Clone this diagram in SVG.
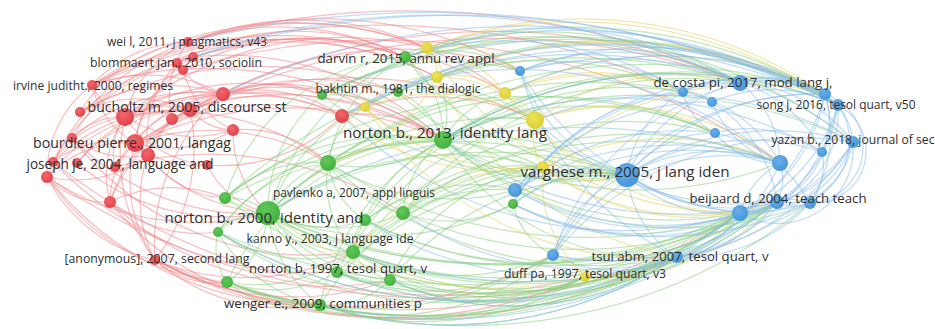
<svg xmlns="http://www.w3.org/2000/svg" width="935" height="329" viewBox="0 0 935 329">
<style>
#edges path{fill:none;stroke-width:1.25;stroke-opacity:.5}
.er{stroke:#ef8285}
.eg{stroke:#86cf7c}
.ey{stroke:#e2d45e}
.eb{stroke:#86bce9}
.r{fill:url(#gr)}
.g{fill:url(#gg)}
.y{fill:url(#gy)}
.b{fill:url(#gb)}
text{font-family:"Open Sans","Liberation Sans",sans-serif;fill:#2f2f2f;text-anchor:middle}
</style>
<defs>
<radialGradient id="gr" cx="40%" cy="35%" r="65%"><stop offset="0" stop-color="#f0686c"/><stop offset="1" stop-color="#e3424a"/></radialGradient>
<radialGradient id="gg" cx="40%" cy="35%" r="65%"><stop offset="0" stop-color="#62c65a"/><stop offset="1" stop-color="#43b33e"/></radialGradient>
<radialGradient id="gy" cx="40%" cy="35%" r="65%"><stop offset="0" stop-color="#ece15a"/><stop offset="1" stop-color="#ddd032"/></radialGradient>
<radialGradient id="gb" cx="40%" cy="35%" r="65%"><stop offset="0" stop-color="#68afe6"/><stop offset="1" stop-color="#4696da"/></radialGradient>
</defs>
<rect width="935" height="329" fill="#fff"/>
<g id="edges">
<g class="er">
<path d="M92 85A130 130 0 0 1 188 42"/><path d="M92 85A160 160 0 0 1 223 94"/><path d="M92 85A60 60 0 0 0 125 117"/><path d="M92 85A90 90 0 0 0 135 143"/>
<path d="M80 112A150 150 0 0 1 188 42"/><path d="M80 112A170 170 0 0 1 223 94"/><path d="M80 112A130 130 0 0 1 190 110"/><path d="M72 138A190 190 0 0 1 223 94"/>
<path d="M72 138A70 70 0 0 1 125 117"/><path d="M72 138A95 95 0 0 0 148 155"/><path d="M53 162A100 100 0 0 1 125 117"/><path d="M53 162A100 100 0 0 1 135 143"/>
<path d="M53 162A180 180 0 0 1 190 110"/><path d="M77 163A150 150 0 0 1 190 110"/><path d="M77 163A190 190 0 0 1 223 94"/><path d="M47 177A110 110 0 0 1 135 143"/>
<path d="M47 177A120 120 0 0 0 148 155"/><path d="M47 177A180 180 0 0 1 190 110"/><path d="M47 177A80 80 0 0 0 110 202"/><path d="M47 177A160 160 0 0 0 155 260"/>
<path d="M115 167A150 150 0 0 1 223 94"/><path d="M115 167A60 60 0 0 1 125 117"/><path d="M110 202A80 80 0 0 1 135 143"/><path d="M110 202A100 100 0 0 1 125 117"/>
<path d="M110 202A150 150 0 0 1 190 110"/><path d="M110 202A190 190 0 0 1 223 94"/><path d="M125 117A110 110 0 0 1 188 42"/><path d="M125 117A80 80 0 0 1 190 110"/>
<path d="M125 117A120 120 0 0 1 223 94"/><path d="M125 117A130 130 0 0 0 233 130"/><path d="M125 117A110 110 0 0 0 207 165"/><path d="M135 143A120 120 0 0 1 193 57"/>
<path d="M135 143A100 100 0 0 1 183 70"/><path d="M135 143A120 120 0 0 1 223 94"/><path d="M135 143A120 120 0 0 0 233 130"/><path d="M135 143A90 90 0 0 0 207 165"/>
<path d="M148 155A110 110 0 0 1 177 63"/><path d="M148 155A110 110 0 0 1 223 94"/><path d="M148 155A70 70 0 0 1 190 110"/><path d="M172 119A90 90 0 0 1 188 42"/>
<path d="M172 119A70 70 0 0 0 223 94"/><path d="M190 110A60 60 0 0 0 233 130"/><path d="M177 63A70 70 0 0 0 223 94"/><path d="M183 70A90 90 0 0 0 233 130"/>
<path d="M135 143A140 140 0 0 0 155 260"/><path d="M125 117A170 170 0 0 0 155 260"/><path d="M148 155A130 130 0 0 0 155 260"/><path d="M155 260A180 180 0 0 0 190 110"/>
<path d="M155 260A200 200 0 0 1 223 94"/><path d="M125 117A260 260 0 0 1 342 116"/><path d="M135 143A250 250 0 0 1 342 116"/><path d="M223 94A150 150 0 0 1 342 116"/>
<path d="M190 110A180 180 0 0 1 342 116"/><path d="M207 165A170 170 0 0 0 342 116"/><path d="M188 42A280 280 0 0 1 405 57"/><path d="M188 42A300 300 0 0 1 427 48"/>
<path d="M193 57A320 320 0 0 1 443 140"/><path d="M177 63A320 320 0 0 1 437 77"/><path d="M92 85A380 380 0 0 1 405 57"/><path d="M92 85A420 420 0 0 1 443 140"/>
<path d="M223 94A270 270 0 0 1 443 140"/><path d="M223 94A120 120 0 0 1 322 95"/><path d="M223 94A170 170 0 0 1 365 107"/><path d="M125 117A380 380 0 0 1 443 140"/>
<path d="M125 117A250 250 0 0 1 328 163"/><path d="M125 117A240 240 0 0 1 322 95"/><path d="M135 143A230 230 0 0 1 328 163"/><path d="M135 143A180 180 0 0 0 268 213"/>
<path d="M135 143A370 370 0 0 1 443 140"/><path d="M190 110A300 300 0 0 1 443 140"/><path d="M190 110A420 420 0 0 1 535 120"/><path d="M188 42A400 400 0 0 1 520 71"/>
<path d="M193 57A380 380 0 0 1 505 93"/><path d="M233 130A120 120 0 0 1 328 163"/><path d="M233 130A110 110 0 0 0 268 213"/><path d="M207 165A90 90 0 0 0 268 213"/>
<path d="M148 155A100 100 0 0 0 225 198"/><path d="M110 202A140 140 0 0 1 225 198"/><path d="M110 202A140 140 0 0 0 218 232"/><path d="M47 177A270 270 0 0 0 268 213"/>
<path d="M155 260A90 90 0 0 0 227 282"/><path d="M155 260A200 200 0 0 0 320 305"/><path d="M155 260A240 240 0 0 0 353 252"/><path d="M155 260A280 280 0 0 0 390 280"/>
<path d="M155 260A500 500 0 0 0 585 277"/><path d="M155 260A600 600 0 0 0 677 257"/><path d="M47 177A240 240 0 0 0 227 282"/><path d="M47 177A340 340 0 0 0 320 305"/>
<path d="M110 202A270 270 0 0 0 320 305"/><path d="M53 162A360 360 0 0 0 337 272"/><path d="M72 138A250 250 0 0 0 268 213"/><path d="M115 167A350 350 0 0 1 403 213"/>
<path d="M80 112A380 380 0 0 1 398 92"/><path d="M183 70A260 260 0 0 1 405 57"/><path d="M172 119A280 280 0 0 1 398 92"/><path d="M342 116A130 130 0 0 1 443 140"/>
<path d="M342 116A230 230 0 0 1 535 120"/><path d="M223 94A360 360 0 0 1 520 71"/><path d="M188 42A800 800 0 0 1 740 83"/><path d="M92 85A720 720 0 0 1 683 92"/>
<path d="M47 177A230 230 0 0 1 188 42"/><path d="M53 162A200 200 0 0 1 177 63"/><path d="M72 138A160 160 0 0 1 193 57"/><path d="M47 177A110 110 0 0 1 92 85"/>
<path d="M47 177A700 700 0 0 0 677 257"/><path d="M53 162A620 620 0 0 0 585 277"/>
<path d="M125 117A340 340 0 0 1 427 48"/><path d="M92 85A360 360 0 0 1 427 48"/><path d="M80 112A350 350 0 0 1 405 57"/><path d="M188 42A340 340 0 0 1 505 93"/>
<path d="M177 63A240 240 0 0 1 405 57"/><path d="M92 85A380 380 0 0 1 437 77"/><path d="M183 70A700 700 0 0 1 780 163"/><path d="M190 110A620 620 0 0 1 740 83"/>
<path d="M135 143A680 680 0 0 1 740 83"/><path d="M155 260A430 430 0 0 0 553 255"/><path d="M155 260A640 640 0 0 0 740 213"/><path d="M110 202A320 320 0 0 0 390 280"/>
<path d="M72 138A300 300 0 0 0 353 252"/><path d="M77 163A230 230 0 0 0 268 213"/>
</g>
<g class="eg">
<path d="M225 198A60 60 0 0 1 268 213"/><path d="M225 198A130 130 0 0 1 328 163"/><path d="M225 198A270 270 0 0 1 443 140"/><path d="M218 232A65 65 0 0 1 268 213"/>
<path d="M218 232A160 160 0 0 0 353 252"/><path d="M218 232A160 160 0 0 1 328 163"/><path d="M268 213A100 100 0 0 1 328 163"/><path d="M268 213A230 230 0 0 1 443 140"/>
<path d="M268 213A250 250 0 0 1 405 57"/><path d="M268 213A150 150 0 0 1 322 95"/><path d="M268 213A210 210 0 0 1 398 92"/><path d="M268 213A120 120 0 0 0 365 220"/>
<path d="M268 213A160 160 0 0 0 403 213"/><path d="M268 213A110 110 0 0 0 353 252"/><path d="M268 213A110 110 0 0 0 337 272"/><path d="M268 213A170 170 0 0 0 390 280"/>
<path d="M227 282A90 90 0 0 0 268 213"/><path d="M268 213A130 130 0 0 0 320 305"/><path d="M268 213A290 290 0 0 0 513 204"/><path d="M268 213A330 330 0 0 1 535 120"/>
<path d="M268 213A330 330 0 0 1 543 167"/><path d="M268 213A430 430 0 0 1 627 175"/><path d="M268 213A560 560 0 0 0 740 213"/><path d="M268 213A600 600 0 0 0 777 202"/>
<path d="M328 163A140 140 0 0 0 443 140"/><path d="M405 57A100 100 0 0 1 443 140"/><path d="M398 92A80 80 0 0 1 443 140"/><path d="M322 95A160 160 0 0 1 443 140"/>
<path d="M443 140A110 110 0 0 1 535 120"/><path d="M443 140A100 100 0 0 1 505 93"/><path d="M437 77A80 80 0 0 1 443 140"/><path d="M443 140A230 230 0 0 0 627 175"/>
<path d="M443 140A370 370 0 0 1 740 83"/><path d="M443 140A460 460 0 0 1 825 94"/><path d="M443 140A400 400 0 0 0 780 163"/><path d="M443 140A360 360 0 0 0 740 213"/>
<path d="M403 213A100 100 0 0 1 443 140"/><path d="M353 252A170 170 0 0 1 443 140"/><path d="M443 140A320 320 0 0 1 715 133"/><path d="M328 163A80 80 0 0 0 365 220"/>
<path d="M328 163A110 110 0 0 0 403 213"/><path d="M328 163A110 110 0 0 0 353 252"/><path d="M328 163A80 80 0 0 1 365 107"/><path d="M328 163A150 150 0 0 1 405 57"/>
<path d="M328 163A350 350 0 0 1 627 175"/><path d="M328 163A230 230 0 0 0 515 190"/><path d="M328 163A260 260 0 0 1 543 167"/><path d="M353 252A60 60 0 0 0 390 280"/>
<path d="M353 252A40 40 0 0 1 365 220"/><path d="M353 252A240 240 0 0 0 553 255"/><path d="M353 252A380 380 0 0 0 677 257"/><path d="M353 252A460 460 0 0 0 740 213"/>
<path d="M337 272A65 65 0 0 0 390 280"/><path d="M337 272A400 400 0 0 0 677 257"/><path d="M337 272A520 520 0 0 0 777 202"/><path d="M390 280A230 230 0 0 0 585 277"/>
<path d="M390 280A420 420 0 0 0 740 213"/><path d="M227 282A110 110 0 0 0 320 305"/><path d="M227 282A160 160 0 0 0 353 252"/><path d="M227 282A130 130 0 0 0 337 272"/>
<path d="M227 282A540 540 0 0 0 677 257"/><path d="M320 305A420 420 0 0 0 677 257"/><path d="M320 305A320 320 0 0 0 585 277"/><path d="M320 305A520 520 0 0 0 740 213"/>
<path d="M320 305A90 90 0 0 0 390 280"/><path d="M403 213A130 130 0 0 0 513 204"/><path d="M403 213A270 270 0 0 1 627 175"/><path d="M403 213A170 170 0 0 1 543 167"/>
<path d="M365 220A180 180 0 0 1 515 190"/><path d="M513 204A140 140 0 0 1 627 175"/><path d="M513 204A75 75 0 0 0 553 255"/><path d="M405 57A30 30 0 0 1 427 48"/>
<path d="M405 57A140 140 0 0 1 520 71"/><path d="M405 57A400 400 0 0 1 740 83"/><path d="M405 57A500 500 0 0 1 825 94"/><path d="M322 95A90 90 0 0 1 398 92"/>
<path d="M322 95A110 110 0 0 1 405 57"/><path d="M398 92A170 170 0 0 1 535 120"/><path d="M268 213A500 500 0 0 0 677 257"/><path d="M225 198A480 480 0 0 1 627 175"/>
<path d="M218 232A60 60 0 0 0 227 282"/><path d="M218 232A150 150 0 0 0 320 305"/><path d="M328 163A490 490 0 0 0 740 213"/><path d="M403 213A440 440 0 0 0 777 202"/>
<path d="M365 220A500 500 0 0 1 780 163"/><path d="M443 140A480 480 0 0 1 853 142"/><path d="M227 282A420 420 0 0 0 585 277"/><path d="M398 92A340 340 0 0 1 683 92"/>
<path d="M322 95A260 260 0 0 1 520 71"/><path d="M225 198A600 600 0 0 0 740 213"/><path d="M218 232A620 620 0 0 0 777 202"/><path d="M227 282A560 560 0 0 0 740 213"/>
<path d="M322 95A480 480 0 0 1 740 83"/><path d="M328 163A560 560 0 0 1 825 94"/>
<path d="M322 95A560 560 0 0 1 838 105"/><path d="M405 57A500 500 0 0 1 853 142"/><path d="M398 92A460 460 0 0 1 825 94"/><path d="M337 272A440 440 0 0 0 740 213"/>
<path d="M227 282A600 600 0 0 0 777 202"/><path d="M320 305A540 540 0 0 0 810 203"/><path d="M390 280A420 420 0 0 0 777 202"/><path d="M390 280A300 300 0 0 0 677 257"/>
<path d="M320 305A250 250 0 0 0 553 255"/><path d="M337 272A230 230 0 0 0 553 255"/><path d="M353 252A250 250 0 0 0 585 277"/><path d="M218 232A500 500 0 0 0 677 257"/>
<path d="M225 198A480 480 0 0 0 677 257"/><path d="M218 232A400 400 0 0 0 585 277"/><path d="M227 282A360 360 0 0 0 553 255"/><path d="M443 140A440 440 0 0 1 838 105"/>
<path d="M328 163A400 400 0 0 1 715 133"/><path d="M353 252A350 350 0 0 1 627 175"/><path d="M337 272A380 380 0 0 1 627 175"/><path d="M390 280A300 300 0 0 1 627 175"/>
<path d="M365 220A330 330 0 0 1 683 92"/><path d="M403 213A360 360 0 0 1 740 83"/><path d="M403 213A380 380 0 0 1 780 163"/><path d="M268 213A460 460 0 0 1 683 92"/>
<path d="M225 198A500 500 0 0 1 715 133"/><path d="M443 140A250 250 0 0 0 677 257"/><path d="M405 57A300 300 0 0 0 627 175"/><path d="M398 92A300 300 0 0 0 627 175"/>
<path d="M322 95A400 400 0 0 0 627 175"/><path d="M353 252A350 350 0 0 1 715 133"/><path d="M328 163A400 400 0 0 0 677 257"/><path d="M443 140A360 360 0 0 0 810 203"/>
<path d="M365 220A400 400 0 0 0 740 213"/><path d="M365 220A420 420 0 0 0 777 202"/><path d="M268 213A480 480 0 0 0 677 257"/><path d="M225 198A520 520 0 0 1 740 83"/>
<path d="M225 198A200 200 0 0 1 405 57"/><path d="M218 232A240 240 0 0 1 443 140"/><path d="M227 282A250 250 0 0 1 443 140"/><path d="M320 305A250 250 0 0 1 443 140"/>
<path d="M337 272A300 300 0 0 1 535 120"/><path d="M390 280A200 200 0 0 1 543 167"/><path d="M353 252A200 200 0 0 1 515 190"/><path d="M320 305A300 300 0 0 1 543 167"/>
</g>
<g class="ey">
<path d="M427 48A40 40 0 0 1 437 77"/><path d="M427 48A110 110 0 0 1 505 93"/><path d="M437 77A130 130 0 0 1 535 120"/><path d="M437 77A80 80 0 0 1 505 93"/>
<path d="M365 107A200 200 0 0 1 535 120"/><path d="M365 107A90 90 0 0 1 437 77"/><path d="M365 107A100 100 0 0 0 443 140"/><path d="M505 93A50 50 0 0 1 535 120"/>
<path d="M535 120A60 60 0 0 0 543 167"/><path d="M535 120A130 130 0 0 0 627 175"/><path d="M535 120A250 250 0 0 1 740 83"/><path d="M543 167A100 100 0 0 0 627 175"/>
<path d="M543 167A130 130 0 0 0 585 277"/><path d="M585 277A110 110 0 0 0 677 257"/><path d="M553 255A50 50 0 0 1 585 277"/><path d="M585 277A190 190 0 0 0 740 213"/>
<path d="M543 167A280 280 0 0 1 780 163"/><path d="M505 93A210 210 0 0 1 683 92"/><path d="M328 163A170 170 0 0 0 437 77"/><path d="M365 107A220 220 0 0 0 543 167"/>
<path d="M427 48A115 115 0 0 1 520 71"/><path d="M543 167A250 250 0 0 0 740 213"/><path d="M353 252A250 250 0 0 1 543 167"/><path d="M535 120A210 210 0 0 1 715 133"/>
<path d="M505 93A250 250 0 0 1 712 102"/><path d="M585 277A240 240 0 0 0 777 202"/><path d="M437 77A460 460 0 0 1 825 94"/><path d="M268 213A380 380 0 0 0 585 277"/>
<path d="M342 116A250 250 0 0 0 543 167"/><path d="M427 48A430 430 0 0 1 825 94"/><path d="M427 48A450 450 0 0 1 838 105"/><path d="M505 93A360 360 0 0 1 825 94"/>
<path d="M437 77A440 440 0 0 1 838 105"/><path d="M543 167A300 300 0 0 1 825 94"/><path d="M543 167A260 260 0 0 0 777 202"/><path d="M535 120A260 260 0 0 1 780 163"/>
<path d="M505 93A300 300 0 0 0 740 213"/><path d="M437 77A330 330 0 0 0 677 257"/><path d="M427 48A380 380 0 0 0 740 213"/><path d="M365 107A350 350 0 0 0 677 257"/>
</g>
<g class="eb">
<path d="M683 92A70 70 0 0 1 740 83"/><path d="M683 92A40 40 0 0 1 712 102"/><path d="M683 92A60 60 0 0 0 715 133"/><path d="M683 92A140 140 0 0 1 780 163"/>
<path d="M683 92A170 170 0 0 1 825 94"/><path d="M740 83A100 100 0 0 1 825 94"/><path d="M740 83A120 120 0 0 1 838 105"/><path d="M740 83A150 150 0 0 1 853 142"/>
<path d="M740 83A100 100 0 0 1 780 163"/><path d="M740 83A130 130 0 0 1 822 152"/><path d="M712 102A100 100 0 0 0 780 163"/><path d="M712 102A140 140 0 0 1 777 202"/>
<path d="M712 102A150 150 0 0 1 838 105"/><path d="M715 133A130 130 0 0 1 822 152"/><path d="M715 133A80 80 0 0 0 780 163"/><path d="M715 133A140 140 0 0 1 810 203"/>
<path d="M825 94A65 65 0 0 1 853 142"/><path d="M810 203A130 130 0 0 0 825 94"/><path d="M740 213A170 170 0 0 0 838 105"/><path d="M740 213A170 170 0 0 0 825 94"/>
<path d="M740 213A160 160 0 0 0 853 142"/><path d="M777 202A115 115 0 0 0 853 142"/><path d="M810 203A90 90 0 0 0 853 142"/><path d="M777 202A135 135 0 0 0 838 105"/>
<path d="M777 202A50 50 0 0 0 780 163"/><path d="M740 213A80 80 0 0 1 780 163"/><path d="M627 175A180 180 0 0 1 780 163"/><path d="M627 175A180 180 0 0 0 777 202"/>
<path d="M627 175A140 140 0 0 0 740 213"/><path d="M627 175A170 170 0 0 1 740 83"/><path d="M627 175A110 110 0 0 1 683 92"/><path d="M627 175A110 110 0 0 1 715 133"/>
<path d="M627 175A260 260 0 0 1 825 94"/><path d="M627 175A270 270 0 0 1 853 142"/><path d="M627 175A230 230 0 0 1 822 152"/><path d="M627 175A220 220 0 0 0 810 203"/>
<path d="M627 175A110 110 0 0 0 677 257"/><path d="M677 257A95 95 0 0 0 740 213"/><path d="M677 257A140 140 0 0 0 777 202"/><path d="M677 257A170 170 0 0 0 810 203"/>
<path d="M677 257A170 170 0 0 0 780 163"/><path d="M677 257A250 250 0 0 0 853 142"/><path d="M677 257A250 250 0 0 0 825 94"/><path d="M515 190A130 130 0 0 1 627 175"/>
<path d="M515 190A300 300 0 0 1 740 83"/><path d="M515 190A270 270 0 0 0 740 213"/><path d="M515 190A310 310 0 0 0 777 202"/><path d="M553 255A140 140 0 0 0 677 257"/>
<path d="M553 255A220 220 0 0 0 740 213"/><path d="M553 255A130 130 0 0 1 627 175"/><path d="M520 71A190 190 0 0 1 683 92"/><path d="M520 71A260 260 0 0 1 740 83"/>
<path d="M520 71A360 360 0 0 1 825 94"/><path d="M520 71A170 170 0 0 0 627 175"/><path d="M740 213A45 45 0 0 1 777 202"/><path d="M740 213A80 80 0 0 1 810 203"/>
<path d="M810 203A60 60 0 0 0 822 152"/><path d="M777 202A40 40 0 0 0 810 203"/><path d="M443 140A410 410 0 0 0 777 202"/><path d="M405 57A330 330 0 0 1 683 92"/>
<path d="M427 48A370 370 0 0 1 740 83"/><path d="M535 120A380 380 0 0 1 853 142"/><path d="M535 120A300 300 0 0 0 777 202"/><path d="M268 213A600 600 0 0 1 780 163"/>
<path d="M353 252A540 540 0 0 0 810 203"/><path d="M320 305A540 540 0 0 0 777 202"/><path d="M342 116A480 480 0 0 1 740 83"/><path d="M223 94A700 700 0 0 1 825 94"/>
<path d="M322 95A600 600 0 0 1 825 94"/><path d="M398 92A520 520 0 0 1 838 105"/><path d="M437 77A420 420 0 0 1 780 163"/><path d="M365 220A370 370 0 0 0 677 257"/>
<path d="M553 255A270 270 0 0 0 777 202"/><path d="M515 190A310 310 0 0 1 780 163"/><path d="M520 71A300 300 0 0 0 740 213"/><path d="M513 204A270 270 0 0 0 740 213"/>
<path d="M513 204A350 350 0 0 0 810 203"/><path d="M513 204A320 320 0 0 1 780 163"/><path d="M403 213A330 330 0 0 0 677 257"/><path d="M188 42A1000 1000 0 0 1 825 94"/>
<path d="M177 63A850 850 0 0 1 838 105"/><path d="M405 57A520 520 0 0 1 838 105"/><path d="M193 57A720 720 0 0 1 740 83"/><path d="M740 213A100 100 0 0 0 838 105"/>
<path d="M777 202A90 90 0 0 0 825 94"/><path d="M740 213A110 110 0 0 0 853 142"/><path d="M677 257A200 200 0 0 0 838 105"/>
<path d="M342 116A520 520 0 0 1 825 94"/><path d="M520 71A380 380 0 0 1 853 142"/><path d="M443 140A440 440 0 0 1 838 105"/><path d="M218 232A500 500 0 0 0 677 257"/>
<path d="M320 305A420 420 0 0 0 677 257"/><path d="M337 272A400 400 0 0 0 740 213"/><path d="M390 280A300 300 0 0 0 677 257"/><path d="M553 255A200 200 0 0 1 780 163"/>
<path d="M505 93A360 360 0 0 1 825 94"/><path d="M365 107A480 480 0 0 1 838 105"/>
<path d="M513 204A250 250 0 0 1 740 83"/><path d="M515 190A260 260 0 0 1 712 102"/><path d="M513 204A220 220 0 0 1 683 92"/><path d="M553 255A260 260 0 0 1 740 83"/>
<path d="M553 255A300 300 0 0 1 825 94"/><path d="M553 255A320 320 0 0 1 853 142"/><path d="M520 71A300 300 0 0 0 677 257"/><path d="M342 116A400 400 0 0 0 740 213"/>
<path d="M443 140A400 400 0 0 1 822 152"/><path d="M513 204A280 280 0 0 0 777 202"/><path d="M515 190A260 260 0 0 1 715 133"/>
<path d="M810 203A56 56 0 0 0 825 94"/><path d="M810 203A52 52 0 0 0 838 105"/><path d="M777 202A62 62 0 0 0 838 105"/><path d="M740 213A75 75 0 0 0 853 142"/>
</g>
</g>
<g id="nodes">
<g id="n-r2"><circle class="r" cx="193" cy="57" r="5"/></g>
<g id="n-r4"><circle class="r" cx="183" cy="70" r="5"/></g>
<g id="n-r6"><circle class="r" cx="223" cy="94" r="7"/></g>
<g id="n-r7"><circle class="r" cx="80" cy="112" r="5"/></g>
<g id="n-r8"><circle class="r" cx="125" cy="117" r="9"/></g>
<g id="n-r9"><circle class="r" cx="172" cy="119" r="6"/></g>
<g id="n-r11"><circle class="r" cx="233" cy="130" r="6"/></g>
<g id="n-r12"><circle class="r" cx="72" cy="138" r="5"/></g>
<g id="n-r14"><circle class="r" cx="148" cy="155" r="7"/></g>
<g id="n-r15"><circle class="r" cx="53" cy="162" r="5"/></g>
<g id="n-r16"><circle class="r" cx="77" cy="163" r="5"/></g>
<g id="n-r18"><circle class="r" cx="207" cy="165" r="5"/></g>
<g id="n-r19"><circle class="r" cx="47" cy="177" r="6"/></g>
<g id="n-r20"><circle class="r" cx="110" cy="202" r="6"/></g>
<g id="n-r22"><circle class="r" cx="342" cy="116" r="7"/></g>
<g id="n-g2"><circle class="g" cx="322" cy="95" r="5"/></g>
<g id="n-g5"><circle class="g" cx="328" cy="163" r="8"/></g>
<g id="n-g6"><circle class="g" cx="513" cy="204" r="5"/></g>
<g id="n-g7"><circle class="g" cx="225" cy="198" r="6"/></g>
<g id="n-g9"><circle class="g" cx="218" cy="232" r="5"/></g>
<g id="n-g11"><circle class="g" cx="365" cy="220" r="6"/></g>
<g id="n-g12"><circle class="g" cx="403" cy="213" r="7"/></g>
<g id="n-g13"><circle class="g" cx="353" cy="252" r="7"/></g>
<g id="n-g15"><circle class="g" cx="390" cy="280" r="6"/></g>
<g id="n-g16"><circle class="g" cx="227" cy="282" r="6"/></g>
<g id="n-y1"><circle class="y" cx="427" cy="48" r="6"/></g>
<g id="n-y2"><circle class="y" cx="437" cy="77" r="6"/></g>
<g id="n-y3"><circle class="y" cx="365" cy="107" r="5"/></g>
<g id="n-y4"><circle class="y" cx="505" cy="93" r="6"/></g>
<g id="n-y5"><circle class="y" cx="535" cy="120" r="9"/></g>
<g id="n-y6"><circle class="y" cx="543" cy="167" r="6"/></g>
<g id="n-b1"><circle class="b" cx="520" cy="71" r="5"/></g>
<g id="n-b2"><circle class="b" cx="683" cy="92" r="5"/></g>
<g id="n-b4"><circle class="b" cx="712" cy="102" r="5"/></g>
<g id="n-b5"><circle class="b" cx="825" cy="94" r="6"/></g>
<g id="n-b7"><circle class="b" cx="715" cy="133" r="5"/></g>
<g id="n-b9"><circle class="b" cx="822" cy="152" r="5"/></g>
<g id="n-b10"><circle class="b" cx="780" cy="163" r="8"/></g>
<g id="n-b13"><circle class="b" cx="810" cy="203" r="6"/></g>
<g id="n-b14"><circle class="b" cx="740" cy="213" r="8"/></g>
<g id="n-b16"><circle class="b" cx="515" cy="190" r="7"/></g>
<g id="n-b17"><circle class="b" cx="553" cy="255" r="6"/></g>
<g id="n-r1"><circle class="r" cx="188" cy="42" r="5"/><text x="187" y="46" font-size="12" textLength="160" lengthAdjust="spacingAndGlyphs">wei l, 2011, j pragmatics, v43</text></g>
<g id="n-r3"><circle class="r" cx="177" cy="63" r="5"/><text x="176" y="67" font-size="12.3" textLength="172" lengthAdjust="spacingAndGlyphs">blommaert jan., 2010, sociolin</text></g>
<g id="n-r5"><circle class="r" cx="92" cy="85" r="5"/><text x="93" y="90" font-size="12" textLength="160" lengthAdjust="spacingAndGlyphs">irvine juditht., 2000, regimes</text></g>
<g id="n-r10"><circle class="r" cx="190" cy="110" r="7"/><text x="187" y="112" font-size="14.1" textLength="199" lengthAdjust="spacingAndGlyphs">bucholtz m, 2005, discourse st</text></g>
<g id="n-r13"><circle class="r" cx="135" cy="143" r="9"/><text x="132" y="148" font-size="14.2" textLength="198" lengthAdjust="spacingAndGlyphs">bourdieu pierre., 2001, langag</text></g>
<g id="n-r17"><circle class="r" cx="115" cy="167" r="5"/><text x="120" y="169" font-size="13.6" textLength="187" lengthAdjust="spacingAndGlyphs">joseph je, 2004, language and</text></g>
<g id="n-r21"><circle class="r" cx="155" cy="260" r="5"/><text x="157" y="263" font-size="12.3" textLength="185" lengthAdjust="spacingAndGlyphs">[anonymous], 2007, second lang</text></g>
<g id="n-g1"><circle class="g" cx="405" cy="57" r="6"/><text x="406" y="63" font-size="13.3" textLength="177" lengthAdjust="spacingAndGlyphs">darvin r, 2015, annu rev appl</text></g>
<g id="n-g3"><circle class="g" cx="398" cy="92" r="5"/><text x="398" y="93" font-size="12.1" textLength="165" lengthAdjust="spacingAndGlyphs">bakhtin m., 1981, the dialogic</text></g>
<g id="n-g4"><circle class="g" cx="443" cy="140" r="9"/><text x="445" y="138" font-size="15.3" textLength="204" lengthAdjust="spacingAndGlyphs">norton b., 2013, identity lang</text></g>
<g id="n-g10"><text x="354" y="197" font-size="11.9" textLength="162" lengthAdjust="spacingAndGlyphs">pavlenko a, 2007, appl linguis</text></g>
<g id="n-g8"><circle class="g" cx="268" cy="213" r="12"/><text x="264" y="223" font-size="15.1" textLength="199" lengthAdjust="spacingAndGlyphs">norton b., 2000, identity and</text></g>
<g id="n-g18"><text x="330" y="243" font-size="12.2" textLength="167" lengthAdjust="spacingAndGlyphs">kanno y., 2003, j language ide</text></g>
<g id="n-g14"><circle class="g" cx="337" cy="272" r="6"/><text x="338" y="273" font-size="13.3" textLength="178" lengthAdjust="spacingAndGlyphs">norton b, 1997, tesol quart, v</text></g>
<g id="n-g17"><circle class="g" cx="320" cy="305" r="6"/><text x="323" y="308" font-size="13.4" textLength="198" lengthAdjust="spacingAndGlyphs">wenger e., 2009, communities p</text></g>
<g id="n-y7"><circle class="y" cx="585" cy="277" r="5"/><text x="585" y="278" font-size="12.2" textLength="162" lengthAdjust="spacingAndGlyphs">duff pa, 1997, tesol quart, v3</text></g>
<g id="n-b11"><circle class="b" cx="627" cy="175" r="12"/><text x="625" y="177" font-size="15.2" textLength="209" lengthAdjust="spacingAndGlyphs">varghese m., 2005, j lang iden</text></g>
<g id="n-b15"><circle class="b" cx="677" cy="257" r="6"/><text x="680" y="261" font-size="13.2" textLength="177" lengthAdjust="spacingAndGlyphs">tsui abm, 2007, tesol quart, v</text></g>
<g id="n-b12"><circle class="b" cx="777" cy="202" r="7"/><text x="778" y="203" font-size="13.2" textLength="177" lengthAdjust="spacingAndGlyphs">beijaard d, 2004, teach teach</text></g>
<g id="n-b3"><circle class="b" cx="740" cy="83" r="8"/><text x="743" y="87" font-size="13.3" textLength="179" lengthAdjust="spacingAndGlyphs">de costa pi, 2017, mod lang j,</text></g>
<g id="n-b6"><circle class="b" cx="838" cy="105" r="6"/><text x="836" y="109" font-size="12" textLength="159" lengthAdjust="spacingAndGlyphs">song j, 2016, tesol quart, v50</text></g>
<g id="n-b8"><circle class="b" cx="853" cy="142" r="6"/><text x="853" y="144" font-size="12" textLength="163" lengthAdjust="spacingAndGlyphs">yazan b., 2018, journal of sec</text></g>
</g>
</svg>
